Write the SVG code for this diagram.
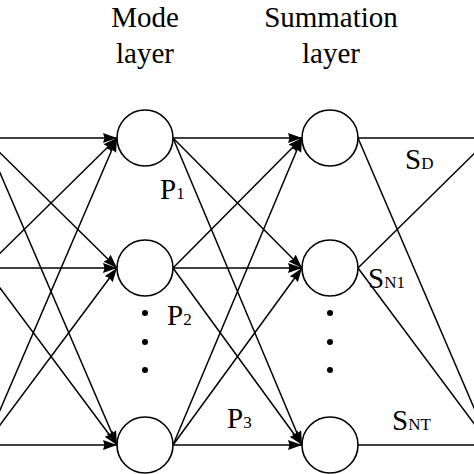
<svg xmlns="http://www.w3.org/2000/svg" width="474" height="474" viewBox="0 0 474 474">
<style>
.t{font-family:"Liberation Serif","Times New Roman",serif;fill:#000}
.big{font-size:29px}
.sub{font-size:17px}
.n{fill:#fff;stroke:#000;stroke-width:1.6}
.e{stroke:#000;stroke-width:1.5;fill:none}
.dot{fill:#000}
</style>
<defs>
<marker id="ah" markerUnits="userSpaceOnUse" markerWidth="16" markerHeight="12" refX="14" refY="5" orient="auto">
<path d="M0,0 L14,5 L0,10 L1.5,5 z" fill="#000"/>
</marker>
</defs>
<rect width="474" height="474" fill="#fff"/>
<g id="titles">
<text class="t big" x="145" y="27" text-anchor="middle">Mode</text>
<text class="t big" x="145" y="63" text-anchor="middle">layer</text>
<text class="t big" x="331" y="27" text-anchor="middle">Summation</text>
<text class="t big" x="331" y="63" text-anchor="middle">layer</text>
</g>
<g id="connectors">
<line class="e" x1="-15" y1="138" x2="117" y2="138" marker-end="url(#ah)"/>
<line class="e" x1="-15" y1="268" x2="117" y2="138" marker-end="url(#ah)"/>
<line class="e" x1="-15" y1="445" x2="117" y2="138" marker-end="url(#ah)"/>
<line class="e" x1="-15" y1="138" x2="117" y2="268" marker-end="url(#ah)"/>
<line class="e" x1="-15" y1="268" x2="117" y2="268" marker-end="url(#ah)"/>
<line class="e" x1="-15" y1="445" x2="117" y2="268" marker-end="url(#ah)"/>
<line class="e" x1="-15" y1="138" x2="117" y2="445" marker-end="url(#ah)"/>
<line class="e" x1="-15" y1="268" x2="117" y2="445" marker-end="url(#ah)"/>
<line class="e" x1="-15" y1="445" x2="117" y2="445" marker-end="url(#ah)"/>
<line class="e" x1="173" y1="138" x2="302" y2="138" marker-end="url(#ah)"/>
<line class="e" x1="173" y1="268" x2="302" y2="138" marker-end="url(#ah)"/>
<line class="e" x1="173" y1="445" x2="302" y2="138" marker-end="url(#ah)"/>
<line class="e" x1="173" y1="138" x2="302" y2="268" marker-end="url(#ah)"/>
<line class="e" x1="173" y1="268" x2="302" y2="268" marker-end="url(#ah)"/>
<line class="e" x1="173" y1="445" x2="302" y2="268" marker-end="url(#ah)"/>
<line class="e" x1="173" y1="138" x2="302" y2="445" marker-end="url(#ah)"/>
<line class="e" x1="173" y1="268" x2="302" y2="445" marker-end="url(#ah)"/>
<line class="e" x1="173" y1="445" x2="302" y2="445" marker-end="url(#ah)"/>
<line class="e" x1="358" y1="138" x2="490" y2="138"/>
<line class="e" x1="358" y1="268" x2="490" y2="138"/>
<line class="e" x1="358" y1="138" x2="490" y2="445"/>
<line class="e" x1="358" y1="268" x2="490" y2="445"/>
<line class="e" x1="358" y1="445" x2="490" y2="445"/>
</g>
<g id="mode1"><circle class="n" cx="145" cy="138" r="28"/></g>
<g id="mode2"><circle class="n" cx="145" cy="268" r="28"/></g>
<g id="mode3"><circle class="n" cx="145" cy="445" r="28"/></g>
<g id="sum1"><circle class="n" cx="330" cy="138" r="28"/></g>
<g id="sum2"><circle class="n" cx="330" cy="268" r="28"/></g>
<g id="sum3"><circle class="n" cx="330" cy="445" r="28"/></g>
<g id="dots">
<circle class="dot" cx="145" cy="313" r="3"/>
<circle class="dot" cx="145" cy="342" r="3"/>
<circle class="dot" cx="145" cy="370" r="3"/>
<circle class="dot" cx="330" cy="313" r="3"/>
<circle class="dot" cx="330" cy="342" r="3"/>
<circle class="dot" cx="330" cy="370" r="3"/>
</g>
<g id="labels">
<text class="t big" x="160" y="199">P<tspan class="sub">1</tspan></text>
<text class="t big" x="167" y="325">P<tspan class="sub">2</tspan></text>
<text class="t big" x="227" y="428">P<tspan class="sub">3</tspan></text>
<text class="t big" x="405" y="169">S<tspan class="sub">D</tspan></text>
<text class="t big" x="368" y="288">S<tspan class="sub">N1</tspan></text>
<text class="t big" x="392" y="430">S<tspan class="sub">NT</tspan></text>
</g>
</svg>
